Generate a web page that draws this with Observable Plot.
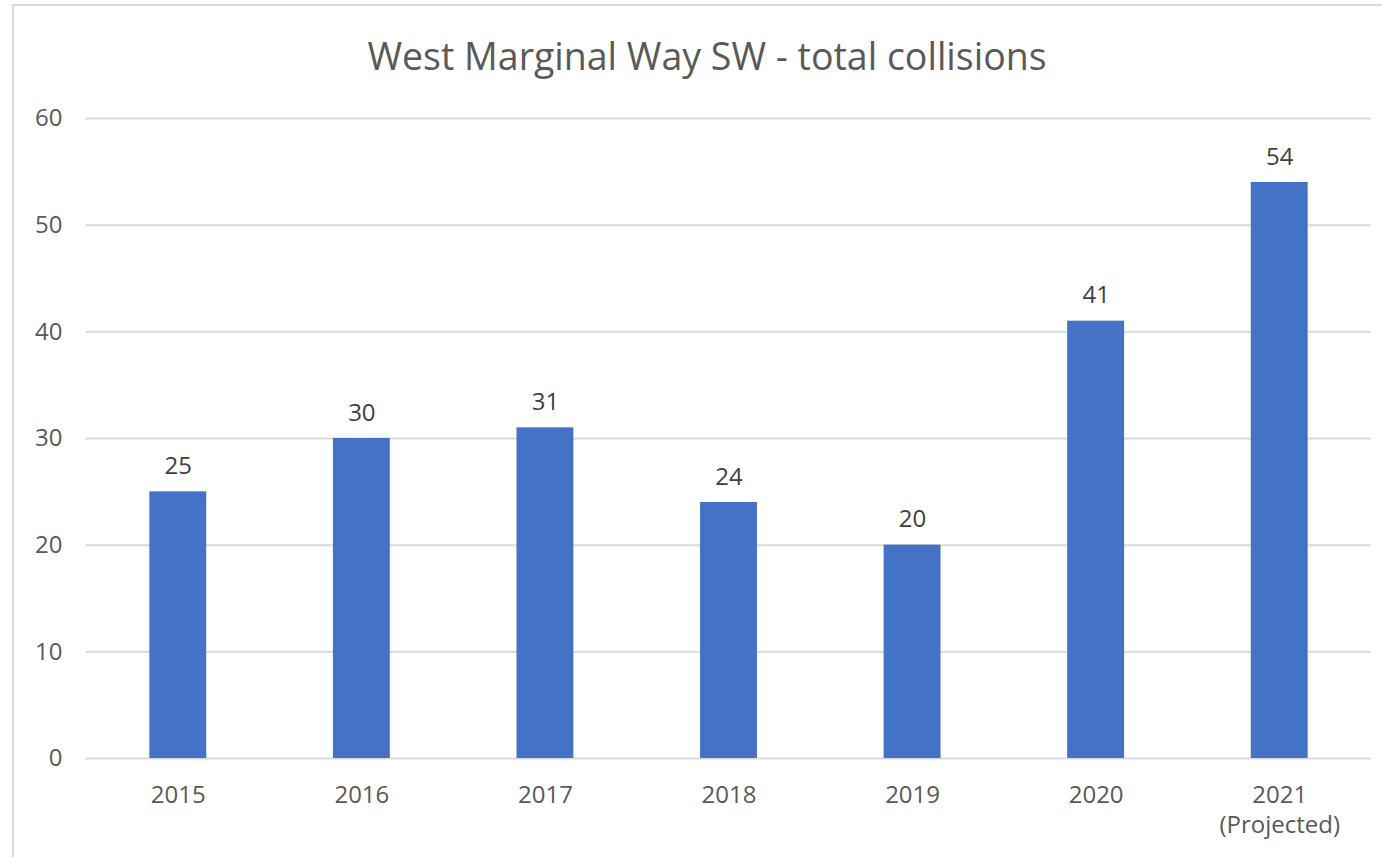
<!DOCTYPE html>
<html>
<head>
<meta charset="utf-8">
<script src="https://cdn.jsdelivr.net/npm/d3@7"></script>
<script src="https://cdn.jsdelivr.net/npm/@observablehq/plot@0.6"></script>
<style>
  html, body { margin: 0; padding: 0; background: #fff; overflow: hidden; }
  #wrap { position: relative; width: 1382px; height: 857px; overflow: hidden; }
  #frame { position: absolute; left: 12px; top: 4px; width: 1400px; height: 900px; border: 2.5px solid #d9d9d9; box-sizing: border-box; }
  #title { position: absolute; left: 0; width: 1414px; top: 37px; text-align: center; font-family: "Open Sans", sans-serif; font-size: 37.5px; color: #595959; line-height: 1; }
  #chart { position: absolute; left: 0; top: 0; }
</style>
</head>
<body>
<div id="wrap">
  <div id="frame"></div>
  <div id="chart"></div>
  <div id="title">West Marginal Way SW - total collisions</div>
</div>
<script>
const years = ["2015", "2016", "2017", "2018", "2019", "2020", "2021"];
const yearLabels = ["2015", "2016", "2017", "2018", "2019", "2020", "2021\n(Projected)"];
const collisions = [25, 30, 31, 24, 20, 41, 54];
const yTicks = [0, 10, 20, 30, 40, 50, 60];

const data = years.map((y, i) => ({year: y, value: collisions[i], label: yearLabels[i]}));
const labelOf = new Map(years.map((y, i) => [y, yearLabels[i]]));

const chart = Plot.plot({
  width: 1382,
  height: 857,
  marginLeft: 86,
  marginRight: 11,
  marginTop: 118,
  marginBottom: 99,
  style: {fontFamily: "Open Sans, sans-serif", fontSize: "24px", background: "transparent", overflow: "visible"},
  x: {domain: years, paddingInner: 0.69, paddingOuter: 0.345, round: false, label: null},
  y: {domain: [0, 60], label: null},
  marks: [
    Plot.gridY(yTicks, {stroke: "#d9d9d9", strokeOpacity: 1, strokeWidth: 2}),
    Plot.barY(data, {x: "year", y: "value", fill: "#4472C4"}),
    Plot.text(data, {x: "year", y: "value", text: d => String(d.value), dy: -18, lineAnchor: "bottom", fill: "#404040", fontSize: 24}),
    Plot.axisY(yTicks, {tickSize: 0, tickPadding: 24, fill: "#595959", fontSize: 24, label: null}),
    Plot.axisX({tickSize: 0, tickPadding: 23, fill: "#595959", fontSize: 24, lineHeight: 1.25, tickFormat: d => labelOf.get(d), label: null})
  ]
});
document.getElementById("chart").appendChild(chart);
</script>
</body>
</html>
